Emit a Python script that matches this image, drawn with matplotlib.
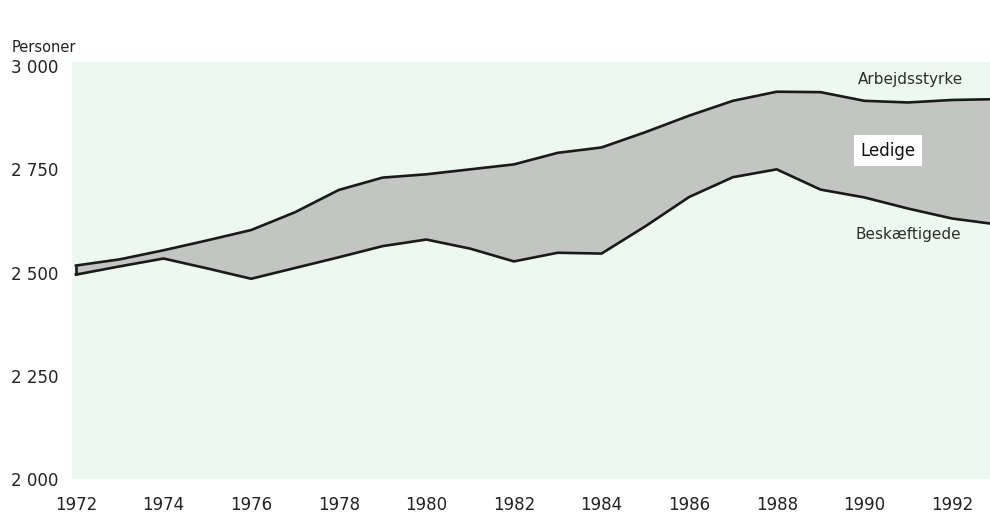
import numpy as np
import matplotlib
matplotlib.use("Agg")
import matplotlib.pyplot as plt

# Arbejdsstyrke og beskæftigede, 1972-1993 (1 000 personer, aflæst)
years = list(range(1972, 1994))
arbejdsstyrke = [2517, 2532, 2554, 2578, 2603, 2646, 2700, 2730, 2738, 2750, 2762,
                 2790, 2803, 2840, 2880, 2916, 2938, 2937, 2916, 2912, 2918, 2920]
beskaeftigede = [2495, 2515, 2534, 2510, 2485, 2511, 2537, 2564, 2580, 2558, 2527,
                 2548, 2546, 2612, 2683, 2731, 2750, 2701, 2682, 2655, 2631, 2617]

yticks = [2000, 2250, 2500, 2750, 3000]
ytick_labels = ["2 000", "2 250", "2 500", "2 750", "3 000"]
xticks = list(range(1972, 1993, 2))

fig = plt.figure(figsize=(9.9, 5.18), dpi=100)
ax = fig.add_axes([72 / 990, (518 - 479) / 518, (990 - 72) / 990, (479 - 62) / 518])
ax.set_facecolor("#edf8f1")

ax.fill_between(years, beskaeftigede, arbejdsstyrke, color="#c3c5c3", linewidth=0)
ax.plot(years, arbejdsstyrke, color="#1a1a1a", linewidth=1.9)
ax.plot(years, beskaeftigede, color="#1a1a1a", linewidth=1.9)
ax.plot([years[0], years[0]], [beskaeftigede[0], arbejdsstyrke[0]], color="#1a1a1a",
        linewidth=1.9, solid_capstyle="butt")

ax.set_xlim(1971.91, 1992.87)
ax.set_ylim(2000, 3010)

ax.set_yticks(yticks)
ax.set_yticklabels(ytick_labels)
ax.set_xticks(xticks)
ax.tick_params(axis="both", length=0, labelsize=12, colors="#222222")
ax.tick_params(axis="x", pad=12)
ax.tick_params(axis="y", pad=10)
for s in ax.spines.values():
    s.set_visible(False)

fig.text(12 / 990, 1 - 47 / 518, "Personer", fontsize=10.5, color="#222222", va="center")

ax.text(1991.06, 2968, "Arbejdsstyrke", fontsize=11, color="#2a2f2c", ha="center", va="center")
ax.text(1991.0, 2592, "Beskæftigede", fontsize=11, color="#2a2f2c", ha="center", va="center")
ax.text(1990.54, 2795, "Ledige", fontsize=12, color="#111111", ha="center", va="center",
        bbox=dict(boxstyle="square,pad=0.4", facecolor="white", edgecolor="none"))

fig.savefig("out.png", dpi=100)
